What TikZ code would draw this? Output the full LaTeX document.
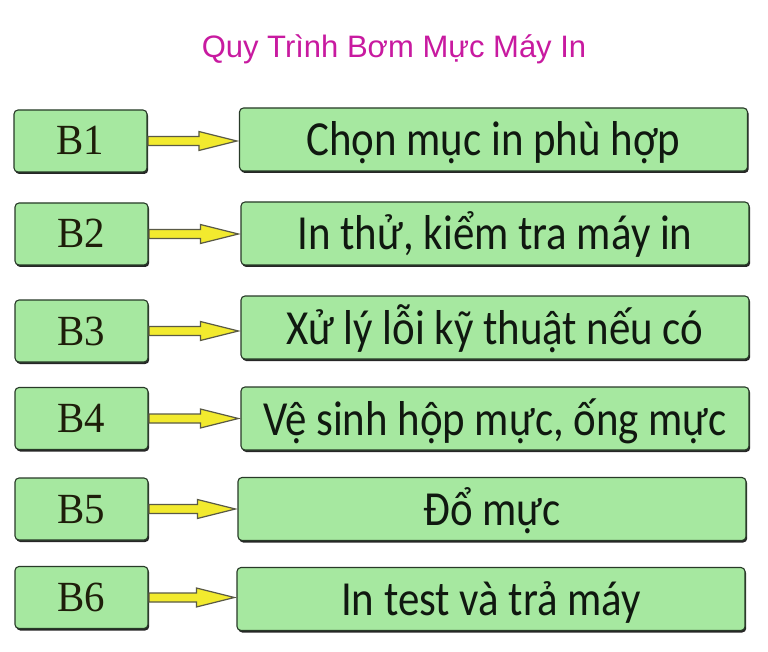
\documentclass[tikz,border=0pt]{standalone}
\usepackage{fontspec}
\setmainfont{Liberation Serif}
\newfontfamily\titlefont{Liberation Sans}
\newfontfamily\stepfont[FakeStretch=0.875]{Carlito}
\newfontfamily\labelfont[FakeStretch=0.95]{Liberation Serif}
\usetikzlibrary{calc,shadows}
\definecolor{boxgreen}{RGB}{166,232,160}
\definecolor{boxedge}{RGB}{40,58,40}
\definecolor{titlemag}{RGB}{200,26,160}
\definecolor{arrowyel}{RGB}{242,234,46}
\definecolor{arrowedge}{RGB}{90,90,70}
\tikzset{
  basebox/.style={draw=boxedge, line width=1.1pt, fill=boxgreen, rounded corners=4pt,
    inner sep=0pt, drop shadow={shadow xshift=1.2pt, shadow yshift=-2pt, fill=black, opacity=0.85}},
  labelbox/.style={basebox, minimum width=133pt, minimum height=62pt,
    text height=28pt, text depth=0pt,
    font=\labelfont\fontsize{43}{45}\selectfont, text={rgb,255:red,30;green,30;blue,10}},
  taskbox/.style={basebox, minimum width=508pt, minimum height=63pt,
    text height=33pt, text depth=0pt,
    font=\stepfont\fontsize{49}{52}\selectfont, text={rgb,255:red,16;green,24;blue,16}},
  arrowshape/.style={fill=arrowyel, draw=arrowedge, line width=1.2pt, line join=miter},
}
\begin{document}
\begin{tikzpicture}[x=1pt,y=-1pt]
\useasboundingbox (0,0) rectangle (768,652);
\fill[white] (0,0) rectangle (768,652);
\node[font=\titlefont\fontsize{31}{33}\selectfont, text=titlemag, text height=21pt, text depth=0pt, inner sep=0pt] (title) at (394,47.5) {Quy Trình Bơm Mực Máy In};
% left boxes
\node[labelbox] (L1) at (80.5,141) {B1};
\node[labelbox] (L2) at (81.5,234) {B2};
\node[labelbox] (L3) at (81.5,331) {B3};
\node[labelbox] (L4) at (81.5,418.5) {B4};
\node[labelbox] (L5) at (81.5,509) {B5};
\node[labelbox] (L6) at (81.5,597.5) {B6};
% right boxes
\node[taskbox] (R1) at (493.5,139.5) {Chọn mục in phù hợp};
\node[taskbox] (R2) at (495,233.5) {In thử, kiểm tra máy in};
\node[taskbox] (R3) at (495,327.5) {Xử lý lỗi kỹ thuật nếu có};
\node[taskbox] (R4) at (495,418.5) {Vệ sinh hộp mực, ống mực};
\node[taskbox] (R5) at (492,509) {Đổ mực};
\node[taskbox] (R6) at (491,599) {In test và trả máy};
% arrows
\foreach \i in {1,...,6}{
  \path[arrowshape]
    ($(L\i.east)+(0.5,-4.5)$) --
    ($(R\i.west |- L\i.east)+(-40,-4.5)$) --
    ($(R\i.west |- L\i.east)+(-40,-9.5)$) --
    ($(R\i.west |- L\i.east)+(-2,0)$) --
    ($(R\i.west |- L\i.east)+(-40,9.5)$) --
    ($(R\i.west |- L\i.east)+(-40,4.5)$) --
    ($(L\i.east)+(0.5,4.5)$) -- cycle;
}
\end{tikzpicture}
\end{document}
